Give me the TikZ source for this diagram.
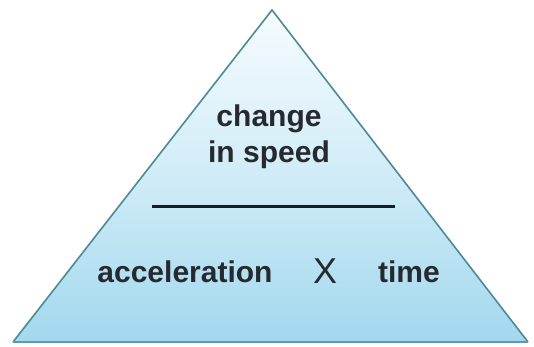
\documentclass[tikz,border=0pt]{standalone}
\usepackage{fontspec}
\setmainfont{Liberation Sans}
\definecolor{edgecol}{HTML}{4E8A96}
\definecolor{topcol}{HTML}{F6FCFE}
\definecolor{botcol}{HTML}{A2D8EE}
\definecolor{txtcol}{HTML}{262A30}
\definecolor{barcol}{HTML}{141C2C}
\tikzset{
  lbl/.style={text=txtcol, font=\fontsize{30}{36}\selectfont\bfseries, inner sep=0pt, anchor=base},
  timesop/.style={text=txtcol, font=\fontsize{36}{40}\selectfont, inner sep=0pt, anchor=base},
}
\begin{document}
\begin{tikzpicture}[x=1pt,y=-1pt]
\useasboundingbox (0,0) rectangle (534,347);
\coordinate (apex) at (272,10);
\coordinate (bl) at (13,342);
\coordinate (br) at (528,342);
\shade[top color=topcol, bottom color=botcol, middle color=botcol!45!topcol] (apex) -- (br) -- (bl) -- cycle;
\draw[edgecol, line width=1.6pt, line join=miter] (bl) -- (apex) -- (br);
\draw[edgecol!80!botcol, line width=2.4pt] (bl) -- (br);
\coordinate (barl) at (152,206);
\coordinate (barr) at (395,206);
\draw[barcol, line width=3pt] (barl) -- (barr);
\node[lbl] (top1) at (269,127) {change};
\node[lbl] (top2) at (269,163) {in speed};
\node[lbl] (acc) at (185,282) {acceleration};
\node[timesop] (x) at (325,283) {X};
\node[lbl] (time) at (409,282) {time};
\end{tikzpicture}
\end{document}
